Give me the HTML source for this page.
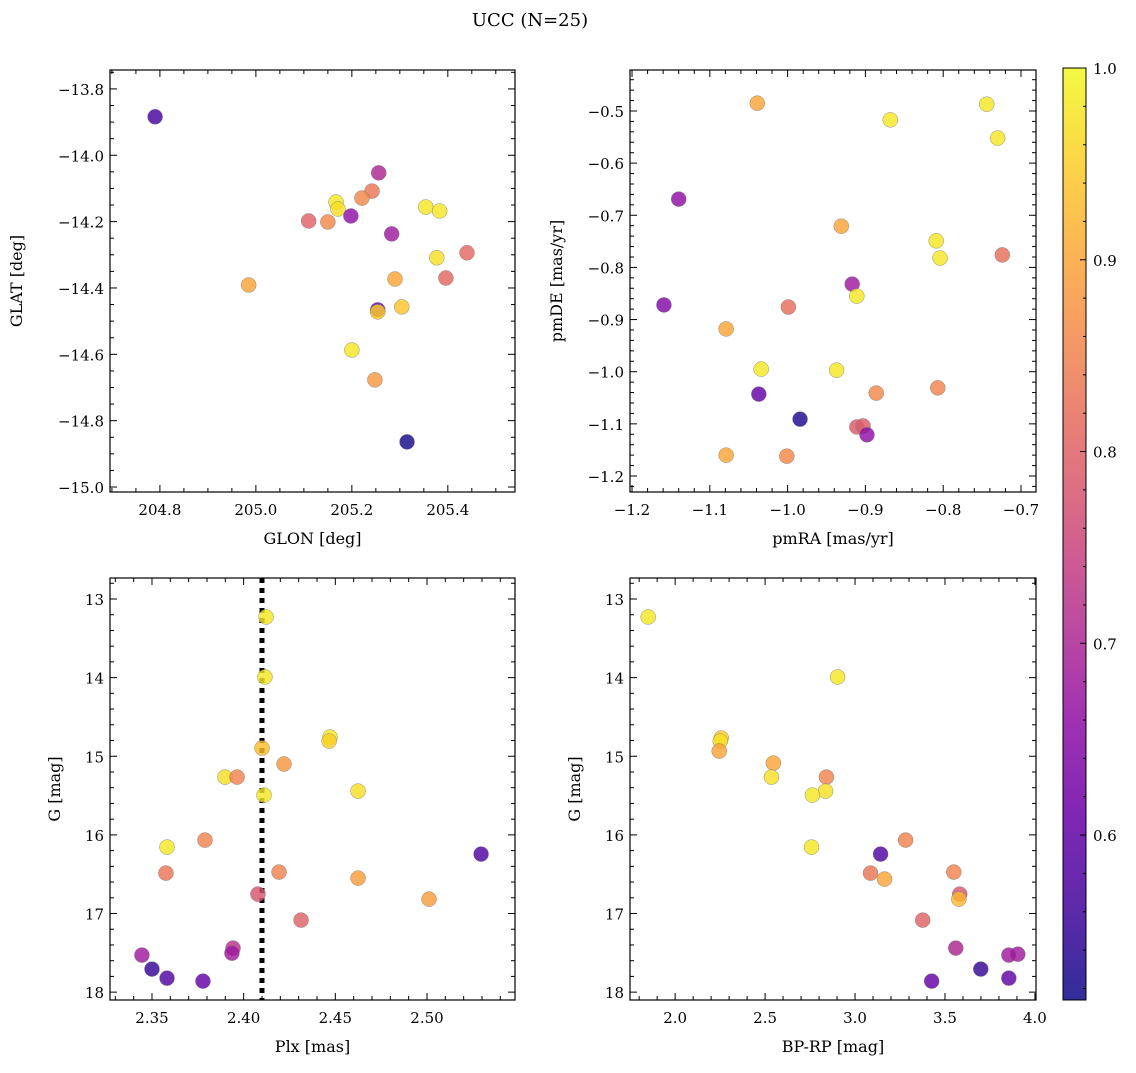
<!DOCTYPE html>
<html><head><meta charset="utf-8">
<style>
body{margin:0;background:#fff;}
svg{font-family:"DejaVu Serif","Liberation Serif",serif;}
</style></head>
<body>
<svg id="fig" width="1136" height="1068" viewBox="0 0 1136 1068" xmlns="http://www.w3.org/2000/svg">
<text x="530" y="26" font-size="18" text-anchor="middle">UCC (N=25)</text>
</svg>
<script>
// ---- data ----
const p1Lon=[204.790,205.256,205.242,205.221,205.167,205.171,205.198,205.110,205.150,205.283,205.354,205.383,205.440,205.377,205.396,205.290,205.254,205.254,205.304,204.985,205.200,205.248,205.315];
const p1Lat=[-13.884,-14.053,-14.108,-14.129,-14.141,-14.162,-14.183,-14.198,-14.201,-14.237,-14.156,-14.168,-14.294,-14.309,-14.370,-14.373,-14.466,-14.472,-14.457,-14.391,-14.587,-14.677,-14.864];
const p1C=[0.57,0.70,0.83,0.86,0.98,0.97,0.66,0.80,0.86,0.68,0.98,0.98,0.81,0.97,0.81,0.90,0.60,0.95,0.94,0.90,0.98,0.88,0.52];
const p2RA=[-1.039,-0.744,-0.868,-0.730,-1.140,-0.931,-0.809,-0.724,-0.804,-0.917,-1.159,-0.999,-0.911,-1.079,-1.034,-0.937,-1.037,-0.886,-0.807,-0.984,-0.911,-0.903,-0.898,-1.079,-1.001];
const p2DE=[-0.485,-0.487,-0.517,-0.552,-0.669,-0.721,-0.749,-0.776,-0.782,-0.832,-0.872,-0.876,-0.855,-0.918,-0.995,-0.997,-1.043,-1.041,-1.031,-1.091,-1.106,-1.104,-1.121,-1.160,-1.162];
const p2C=[0.90,0.98,0.98,0.98,0.66,0.90,0.98,0.82,0.98,0.68,0.64,0.82,0.98,0.90,0.98,0.98,0.60,0.86,0.85,0.53,0.79,0.79,0.66,0.90,0.86];
const p3Plx=[2.4122,2.4116,2.4471,2.4466,2.4100,2.3898,2.3964,2.4220,2.4111,2.4624,2.3582,2.3789,2.3576,2.4193,2.5295,2.4624,2.5011,2.4078,2.4313,2.3942,2.3936,2.3445,2.3500,2.3582,2.3778];
const p3G=[13.229,13.992,14.756,14.807,14.896,15.265,15.265,15.099,15.494,15.443,16.155,16.066,16.486,16.473,16.244,16.550,16.817,16.753,17.084,17.440,17.504,17.529,17.707,17.822,17.860];
const p3C=[0.98,0.98,0.98,0.95,0.93,0.97,0.85,0.88,0.98,0.97,0.98,0.85,0.83,0.85,0.58,0.89,0.89,0.78,0.80,0.72,0.68,0.68,0.55,0.58,0.60];
const p3Line=[2.41];
const p4BR=[1.850,2.903,2.256,2.251,2.245,2.546,2.535,2.841,2.836,2.763,2.758,3.281,3.142,3.086,3.549,3.164,3.582,3.577,3.376,3.560,3.905,3.855,3.699,3.855,3.426];
const p4G=[13.229,13.992,14.768,14.807,14.934,15.087,15.265,15.265,15.443,15.494,16.155,16.066,16.244,16.486,16.473,16.562,16.753,16.817,17.084,17.440,17.517,17.529,17.707,17.822,17.860];
const p4C=[0.98,0.98,0.95,0.97,0.90,0.90,0.97,0.85,0.97,0.98,0.98,0.85,0.58,0.83,0.85,0.90,0.78,0.92,0.80,0.70,0.68,0.68,0.55,0.60,0.60];
const p1XTicks=[204.8,205.0,205.2,205.4];
const p1YTicks=[-13.8,-14.0,-14.2,-14.4,-14.6,-14.8,-15.0];
const p2XTicks=[-1.2,-1.1,-1.0,-0.9,-0.8,-0.7];
const p2YTicks=[-0.5,-0.6,-0.7,-0.8,-0.9,-1.0,-1.1,-1.2];
const p3XTicks=[2.35,2.40,2.45,2.50];
const gTicks=[13,14,15,16,17,18];
const p4XTicks=[2.0,2.5,3.0,3.5,4.0];
const cbTicks=[0.6,0.7,0.8,0.9,1.0];
const cMin=0.514,cMax=1.0;

const NS="http://www.w3.org/2000/svg";
const svg=document.getElementById('fig');
function mk(tag,attrs,parent){const e=document.createElementNS(NS,tag);for(const k in attrs)e.setAttribute(k,attrs[k]);(parent||svg).appendChild(e);return e;}
const stops=["#0d0887","#41049d","#6a00a8","#8f0da4","#b12a90","#cc4778","#e16462","#f2844b","#fca636","#fcce25","#f0f921"];
function hx(h){return [parseInt(h.substr(1,2),16),parseInt(h.substr(3,2),16),parseInt(h.substr(5,2),16)];}
function plasma(t){t=Math.max(0,Math.min(1,t));const f=t*10,i=Math.min(9,Math.floor(f)),r=f-i;const a=hx(stops[i]),b=hx(stops[i+1]);return "rgb("+a.map((v,k)=>Math.round(v+(b[k]-v)*r)).join(",")+")";}
function minus(s){return s.replace('-','\u2212');}

function panel(o){
  const g=mk('g',{});
  
  
  const X=v=>o.x0+(v-o.xmin)/(o.xmax-o.xmin)*(o.x1-o.x0);
  const Y=o.yinv? v=>o.y0+(v-o.ymin)/(o.ymax-o.ymin)*(o.y1-o.y0) : v=>o.y1-(v-o.ymin)/(o.ymax-o.ymin)*(o.y1-o.y0);
  const tg=mk('g',{stroke:'#000','stroke-width':1},g);
  for(let v=Math.ceil(o.xmin/o.xminor)*o.xminor;v<=o.xmax;v+=o.xminor){const px=X(v);
    const major=o.xt.some(t=>Math.abs(t-v)<o.xminor/10);const L=major?7:4;
    mk('line',{x1:px,x2:px,y1:o.y1,y2:o.y1-L},tg);mk('line',{x1:px,x2:px,y1:o.y0,y2:o.y0+L},tg);}
  for(let v=Math.ceil(o.ymin/o.yminor)*o.yminor;v<=o.ymax;v+=o.yminor){const py=Y(v);
    const major=o.yt.some(t=>Math.abs(t-v)<o.yminor/10);const L=major?7:4;
    mk('line',{y1:py,y2:py,x1:o.x0,x2:o.x0+L},tg);mk('line',{y1:py,y2:py,x1:o.x1,x2:o.x1-L},tg);}
  o.xt.forEach(v=>{const t=mk('text',{x:X(v),y:o.y1+23,'font-size':15,'text-anchor':'middle'},g);t.textContent=minus(v.toFixed(o.xd));
    });
  o.yt.forEach(v=>{const t=mk('text',{x:o.x0-6,y:Y(v)+6,'font-size':15,'text-anchor':'end'},g);t.textContent=minus(v.toFixed(o.yd));
    });
  const xl=mk('text',{x:(o.x0+o.x1)/2,y:o.y1+52,'font-size':16,'text-anchor':'middle'},g);xl.textContent=o.xlab;
  
  const yx=o.x0-o.ylo,yy=(o.y0+o.y1)/2;
  const yl=mk('text',{x:yx,y:yy,'font-size':16,'text-anchor':'middle',transform:`rotate(-90 ${yx} ${yy})`},g);yl.textContent=o.ylab;
  
  if(o.vline){o.vline.forEach(v=>{const l=mk('line',{x1:X(v),x2:X(v),y1:o.y0,y2:o.y1,stroke:'#000','stroke-width':5,'stroke-dasharray':'5 5'},g);
    });}
  o.xs.forEach((v,i)=>{const c=mk('circle',{cx:X(v),cy:Y(o.ys[i]),r:7.5,fill:plasma((o.cs[i]-cMin)/(cMax-cMin)),'fill-opacity':0.82,stroke:'#777','stroke-width':0.5,'stroke-opacity':0.8},g);
    });
  mk('rect',{x:o.x0,y:o.y0,width:o.x1-o.x0,height:o.y1-o.y0,fill:'none',stroke:'#000','stroke-width':1.2},g);
}
panel({name:'glon-glat-panel',x0:110,x1:515,y0:70,y1:492,xmin:204.696,xmax:205.54,ymin:-15.015,ymax:-13.743,xt:p1XTicks,yt:p1YTicks,xminor:0.05,yminor:0.05,xd:1,yd:1,xs:p1Lon,ys:p1Lat,cs:p1C,xlab:'GLON [deg]',ylab:'GLAT [deg]',ylo:88});
panel({name:'proper-motion-panel',x0:630,x1:1036,y0:70,y1:492,xmin:-1.2026,xmax:-0.6807,ymin:-1.2307,ymax:-0.4214,xt:p2XTicks,yt:p2YTicks,xminor:0.02,yminor:0.02,xd:1,yd:1,xs:p2RA,ys:p2DE,cs:p2C,xlab:'pmRA [mas/yr]',ylab:'pmDE [mas/yr]',ylo:68});
panel({name:'parallax-panel',x0:110,x1:515,y0:578,y1:1000,xmin:2.3271,xmax:2.548,ymin:12.733,ymax:18.10,yinv:true,xt:p3XTicks,yt:gTicks,xminor:0.01,yminor:0.2,xd:2,yd:0,xs:p3Plx,ys:p3G,cs:p3C,xlab:'Plx [mas]',ylab:'G [mag]',ylo:50,vline:p3Line});
panel({name:'cmd-panel',x0:630,x1:1036,y0:578,y1:1000,xmin:1.749,xmax:4.006,ymin:12.733,ymax:18.10,yinv:true,xt:p4XTicks,yt:gTicks,xminor:0.1,yminor:0.2,xd:1,yd:0,xs:p4BR,ys:p4G,cs:p4C,xlab:'BP-RP [mag]',ylab:'G [mag]',ylo:50});

const cb=mk('g',{});


const defs=mk('defs',{},cb);const lg=mk('linearGradient',{id:'pg',x1:0,y1:1,x2:0,y2:0},defs);
stops.forEach((s,i)=>mk('stop',{offset:(i*10)+'%','stop-color':s,'stop-opacity':0.85},lg));
const cbx=1063,cbw=23,cby0=68,cby1=1000;
mk('rect',{x:cbx,y:cby0,width:cbw,height:cby1-cby0,fill:'url(#pg)',stroke:'#000','stroke-width':1},cb);
const CY=v=>cby1-(v-cMin)/(cMax-cMin)*(cby1-cby0);
for(let v=0.52;v<=1.0001;v+=0.02){const py=CY(v);const major=cbTicks.some(t=>Math.abs(t-v)<0.005);
  mk('line',{x1:cbx+cbw,x2:cbx+cbw-(major?6:3),y1:py,y2:py,stroke:'#000'},cb);}
cbTicks.forEach(v=>{const t=mk('text',{x:cbx+cbw+7,y:CY(v)+6,'font-size':15},cb);t.textContent=v.toFixed(1);
  });
</script>
</body></html>
